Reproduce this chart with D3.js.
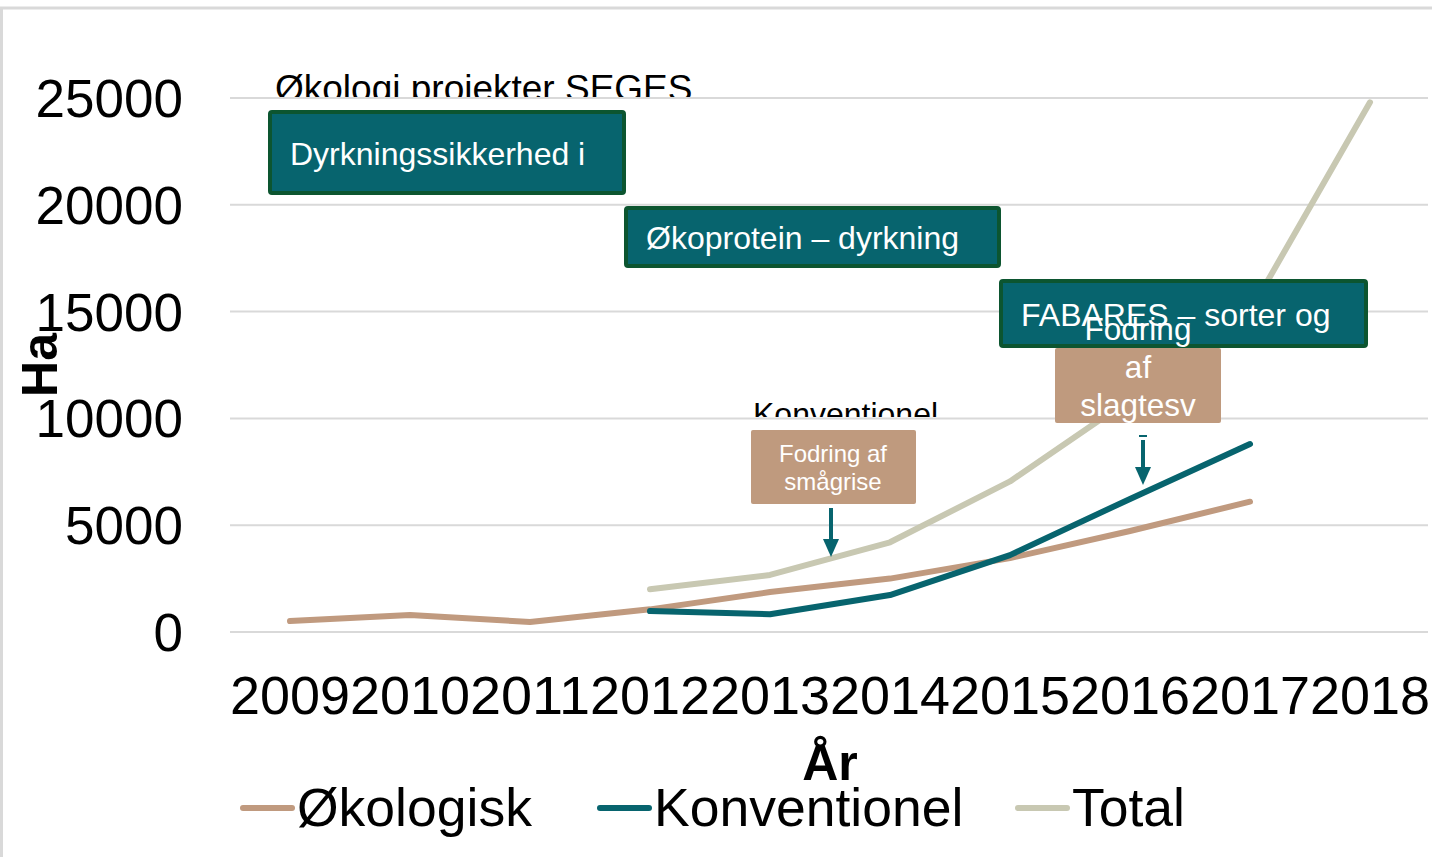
<!DOCTYPE html>
<html>
<head>
<meta charset="utf-8">
<script src="https://cdn.jsdelivr.net/npm/d3@7"></script>
<style>
  body { margin: 0; background: #fff; }
  svg { font-family: "Liberation Sans", Arial, sans-serif; display: block; }
  .grid line { stroke: #d9d9d9; stroke-width: 2; }
  .axis path, .axis line { display: none; }
</style>
</head>
<body>
<svg width="1432" height="857"></svg>
<script>
var years = ["2009", "2010", "2011", "2012", "2013", "2014", "2015", "2016", "2017", "2018"];
var okologisk = [510, 800, 470, 1060, 1870, 2500, 3460, 4730, 6100, null];
var konventionel = [null, null, null, 980, 830, 1730, 3600, 6230, 8800, null];
var total = [null, null, null, 2000, 2670, 4200, 7050, 10900, 15000, 24800];
var yTicks = [0, 5000, 10000, 15000, 20000, 25000];

var seriesNames = ["Økologisk", "Konventionel", "Total"];
var seriesColors = ["#c09a7f", "#07646e", "#c8c8b2"];
var seriesData = [okologisk, konventionel, total];

var svg = d3.select("svg"),
    margin = {top: 98, right: 2, bottom: 225, left: 230},
    width = 1430 - margin.left,
    height = 632 - margin.top;

// outer frame (only top + left edges visible)
svg.append("line").attr("x1", 1.5).attr("y1", 8).attr("x2", 1.5).attr("y2", 857)
    .attr("stroke", "#d9d9d9").attr("stroke-width", 3);
svg.append("line").attr("x1", 0).attr("y1", 8).attr("x2", 1432).attr("y2", 8)
    .attr("stroke", "#d9d9d9").attr("stroke-width", 3);

var g = svg.append("g").attr("transform", "translate(" + margin.left + "," + margin.top + ")");

var x = d3.scaleBand().domain(years).range([0, width]);
var y = d3.scaleLinear().domain([0, 25000]).range([height, 0]);

g.append("g")
    .attr("class", "grid")
    .selectAll("line")
    .data(yTicks)
  .enter().append("line")
    .attr("x1", 0).attr("x2", width - 2)
    .attr("y1", function(d) { return y(d); })
    .attr("y2", function(d) { return y(d); });

g.append("g")
    .attr("class", "axis")
    .call(d3.axisLeft(y).tickValues(yTicks).tickFormat(d3.format("d")).tickSize(0).tickPadding(47))
    .selectAll("text")
    .attr("font-size", 53)
    .attr("font-family", "Liberation Sans, Arial, sans-serif")
    .attr("fill", "#000")
    .attr("dy", "0.35em");

g.append("g")
    .attr("class", "axis")
    .attr("transform", "translate(0," + height + ")")
    .call(d3.axisBottom(x).tickSize(0).tickPadding(44))
    .selectAll("text")
    .attr("font-size", 53)
    .attr("font-family", "Liberation Sans, Arial, sans-serif")
    .attr("fill", "#000")
    .attr("textLength", 120)
    .attr("lengthAdjust", "spacingAndGlyphs");

svg.append("text")
    .attr("transform", "translate(57,365) rotate(-90)")
    .attr("text-anchor", "middle")
    .attr("font-weight", "bold")
    .attr("font-size", 50)
    .text("Ha");

svg.append("text")
    .attr("x", 830).attr("y", 780)
    .attr("text-anchor", "middle")
    .attr("font-weight", "bold")
    .attr("font-size", 50)
    .text("År");

// lines
var line = d3.line()
    .defined(function(d) { return d != null; })
    .x(function(d, i) { return x(years[i]) + x.bandwidth() / 2; })
    .y(function(d) { return y(d); });

[2, 0, 1].forEach(function(k) {
  g.append("path")
      .datum(seriesData[k])
      .attr("fill", "none")
      .attr("stroke", seriesColors[k])
      .attr("stroke-width", 6)
      .attr("stroke-linecap", "round")
      .attr("stroke-linejoin", "round")
      .attr("d", line);
});

// annotations
svg.append("defs").append("clipPath").attr("id", "clipTop")
  .append("rect").attr("x", 0).attr("y", 0).attr("width", 1432).attr("height", 97);
svg.append("defs").append("clipPath").attr("id", "clipKonv")
  .append("rect").attr("x", 0).attr("y", 380).attr("width", 1432).attr("height", 37);

svg.append("text")
    .attr("x", 275).attr("y", 101)
    .attr("font-size", 37)
    .attr("clip-path", "url(#clipTop)")
    .text("Økologi projekter SEGES");

var projects = [
  {text: "Dyrkningssikkerhed i", top: 24340, bottom: 20550},
  {text: "Økoprotein – dyrkning", top: 19850, bottom: 17135},
  {text: "FABARES – sorter og", top: 16430, bottom: 13390}
];
var px = [270, 626, 1001, 1368];
projects.forEach(function(p, i) {
  var x0 = px[i], x1 = px[i + 1];
  svg.append("rect")
      .attr("x", x0).attr("y", y(p.top) + margin.top)
      .attr("width", x1 - x0 - 2).attr("height", y(p.bottom) - y(p.top))
      .attr("rx", 2)
      .attr("fill", "#07646e")
      .attr("stroke", "#0c5530")
      .attr("stroke-width", 4);
  svg.append("text")
      .attr("x", x0 + 20)
      .attr("y", (y(p.top) + y(p.bottom)) / 2 + margin.top + 12)
      .attr("fill", "#fff")
      .attr("font-size", 32)
      .text(p.text);
});

svg.append("text")
    .attr("x", 753).attr("y", 425)
    .attr("font-size", 32)
    .attr("clip-path", "url(#clipKonv)")
    .text("Konventionel");

// tan boxes
svg.append("rect")
    .attr("x", 751).attr("y", 430).attr("width", 165).attr("height", 74).attr("rx", 2)
    .attr("fill", "#bf9a7e");
svg.append("text").attr("x", 833).attr("y", 462).attr("text-anchor", "middle")
    .attr("fill", "#fff").attr("font-size", 24).text("Fodring af");
svg.append("text").attr("x", 833).attr("y", 490).attr("text-anchor", "middle")
    .attr("fill", "#fff").attr("font-size", 24).text("smågrise");

svg.append("rect")
    .attr("x", 1055).attr("y", 348).attr("width", 166).attr("height", 75).attr("rx", 2)
    .attr("fill", "#bf9a7e");
["Fodring", "af", "slagtesv"].forEach(function(t, i) {
  svg.append("text").attr("x", 1138).attr("y", 340 + i * 38).attr("text-anchor", "middle")
      .attr("fill", "#fff").attr("font-size", 31.5).text(t);
});

// arrows
function arrow(cx, y0, y1) {
  svg.append("line").attr("x1", cx).attr("x2", cx).attr("y1", y0).attr("y2", y1 - 14)
      .attr("stroke", "#07646e").attr("stroke-width", 4);
  svg.append("path")
      .attr("d", "M" + (cx - 8) + "," + (y1 - 18) + "L" + (cx + 8) + "," + (y1 - 18) + "L" + cx + "," + y1 + "Z")
      .attr("fill", "#07646e");
}
arrow(831, 508, 557);
svg.append("line").attr("x1", 1139).attr("x2", 1147).attr("y1", 436).attr("y2", 436)
    .attr("stroke", "#07646e").attr("stroke-width", 2);
arrow(1143, 440, 485);

// legend
var legendX = [240, 597, 1015];
seriesNames.forEach(function(name, i) {
  svg.append("line")
      .attr("x1", legendX[i] + 3).attr("x2", legendX[i] + 52)
      .attr("y1", 808).attr("y2", 808)
      .attr("stroke", seriesColors[i]).attr("stroke-width", 6)
      .attr("stroke-linecap", "round");
  svg.append("text")
      .attr("x", legendX[i] + 57).attr("y", 826)
      .attr("font-size", 53.5)
      .text(name);
});
</script>
</body>
</html>
